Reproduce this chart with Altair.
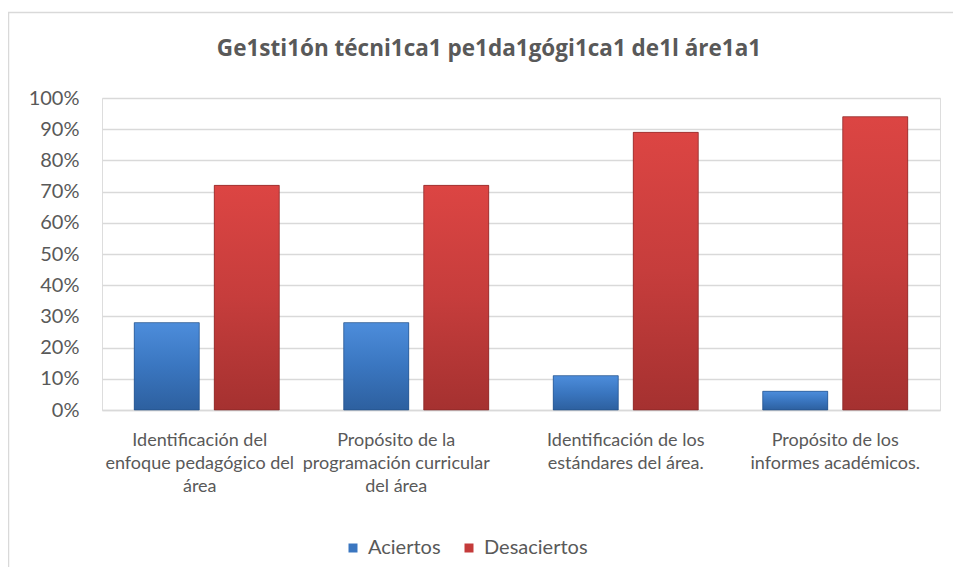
import altair as alt
import pandas as pd

# ---- data ----
categories = [
    "Identificación del|enfoque pedagógico del|área",
    "Propósito de la|programación curricular|del área",
    "Identificación de los|estándares del área.",
    "Propósito de los|informes académicos.",
]
series_names = ["Aciertos", "Desaciertos"]
aciertos = [0.28, 0.28, 0.11, 0.06]
desaciertos = [0.72, 0.72, 0.89, 0.94]
y_ticks = [0.0, 0.1, 0.2, 0.3, 0.4, 0.5, 0.6, 0.7, 0.8, 0.9, 1.0]
title_text = "Ge1sti1ón técni1ca1 pe1da1gógi1ca1 de1l áre1a1"
series_colors = ["#3a76c0", "#c43b3a"]

rows = []
for c, a, d in zip(categories, aciertos, desaciertos):
    rows.append({"cat": c, "serie": series_names[0], "val": a})
    rows.append({"cat": c, "serie": series_names[1], "val": d})
df = pd.DataFrame(rows)

FONT = "Lato"
GREY = "#595959"
W, H = 838, 312

x_enc = alt.X(
    "cat:N",
    sort=categories,
    scale=alt.Scale(paddingInner=0, paddingOuter=0),
    axis=alt.Axis(
        title=None,
        labelAngle=0,
        labelExpr="split(datum.label, '|')",
        labelFontSize=18,
        labelLineHeight=23,
        labelPadding=21,
        labelOffset={
            "condition": [
                {"test": "datum.index == 0", "value": -7},
                {"test": "datum.index < 0.5", "value": -20},
            ],
            "value": 0,
        },
        labelColor=GREY,
        labelFont=FONT,
        labelLimit=400,
        labelOverlap=False,
        ticks=False,
        domainColor="#d9d9d9",
        domainWidth=1.5,
    ),
)
xoff_enc = alt.XOffset(
    "serie:N",
    sort=series_names,
    scale=alt.Scale(domain=series_names, paddingInner=0.1875, paddingOuter=0.403),
)
y_enc = alt.Y(
    "val:Q",
    scale=alt.Scale(domain=[0, 1], nice=False),
    axis=alt.Axis(
        title=None,
        values=y_ticks,
        format=".0%",
        labelFontSize=20,
        labelColor=GREY,
        labelFont=FONT,
        labelPadding=23,
        labelOverlap=False,
        ticks=False,
        domain=False,
        gridColor="#d9d9d9",
        gridWidth=1.5,
    ),
)

bars = alt.Chart(df).mark_bar().encode(
    x=x_enc,
    xOffset=xoff_enc,
    y=y_enc,
    color=alt.Color(
        "serie:N",
        sort=series_names,
        scale=alt.Scale(domain=series_names, range=series_colors),
        legend=alt.Legend(
            title=None,
            orient="none",
            legendX=241,
            legendY=440,
            direction="horizontal",
            symbolType="square",
            symbolSize=81,
            symbolStrokeWidth=0,
            labelFontSize=20,
            labelColor=GREY,
            labelFont=FONT,
            labelOffset=5,
            columnPadding=18,
        ),
    ),
)

grad_blue = alt.Gradient(
    gradient="linear", x1=0, y1=0, x2=0, y2=1,
    stops=[alt.GradientStop(color="#4d8ddb", offset=0),
           alt.GradientStop(color="#3a76c0", offset=0.5),
           alt.GradientStop(color="#2d609f", offset=1)],
)
grad_red = alt.Gradient(
    gradient="linear", x1=0, y1=0, x2=0, y2=1,
    stops=[alt.GradientStop(color="#dc4543", offset=0),
           alt.GradientStop(color="#c63d3c", offset=0.5),
           alt.GradientStop(color="#a53130", offset=1)],
)

shade_blue = alt.Chart(df).transform_filter(
    alt.datum.serie == series_names[0]
).mark_bar(fill=grad_blue, stroke="#1f4a80", strokeWidth=0.6).encode(
    x=x_enc, xOffset=xoff_enc, y=y_enc
)
shade_red = alt.Chart(df).transform_filter(
    alt.datum.serie == series_names[1]
).mark_bar(fill=grad_red, stroke="#7a2221", strokeWidth=0.6).encode(
    x=x_enc, xOffset=xoff_enc, y=y_enc
)

frame = alt.Chart(pd.DataFrame({"k": [0]})).mark_rect(
    fill="transparent", stroke="#d9d9d9", strokeWidth=1.5
).encode(
    x=alt.value(-93.5), x2=alt.value(W + 40), y=alt.value(-85.5), y2=alt.value(H + 300)
)

chart = alt.layer(frame, bars, shade_blue, shade_red).properties(
    width=W,
    height=H,
    title=alt.TitleParams(
        text=title_text,
        font="Open Sans",
        fontSize=22.5,
        fontWeight="bold",
        color=GREY,
        anchor="middle",
        frame="group",
        dx=-32,
        offset=-49,
    ),
    autosize=alt.AutoSizeParams(type="none"),
    padding={"left": 94, "top": 90, "right": 13, "bottom": 157},
).configure_view(stroke=None).configure(background="white")

chart.save("out.html", embed_options={"renderer": "svg", "actions": False})
